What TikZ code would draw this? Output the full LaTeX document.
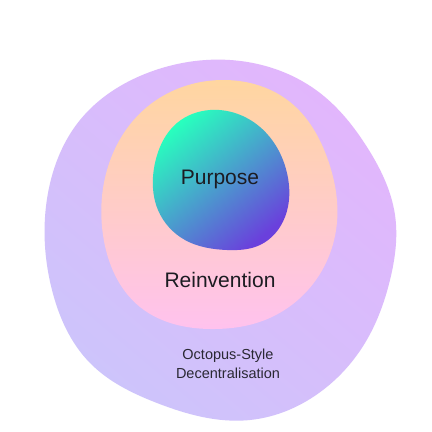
\documentclass[tikz,border=0pt]{standalone}
\usepackage{fontspec}
\setmainfont{Liberation Sans}
\usetikzlibrary{hobby}
\definecolor{outerA}{HTML}{E2B6FC}
\definecolor{outerB}{HTML}{CDC4FB}
\definecolor{midA}{HTML}{FFD6A0}
\definecolor{midB}{HTML}{FFC2EE}
\definecolor{inA}{HTML}{28FFBE}
\definecolor{inM}{HTML}{48B8C8}
\definecolor{inB}{HTML}{6A40DC}
\definecolor{txt}{HTML}{1C1C22}
\definecolor{txtb}{HTML}{2A2833}
\begin{document}
\begin{tikzpicture}[x=1pt,y=-1pt,
  lbl/.style={text=txt, inner sep=0pt, align=center}]
\useasboundingbox (0,0) rectangle (432,432);
\fill[white] (0,0) rectangle (432,432);
% outer blob
\shade[top color=outerA, bottom color=outerB, shading angle=-40]
  (230,60) to[closed, curve through={(320,93) (367,147) (395,215) (390,280)
  (365,343) (323,390) (250,420) (157,403) (90,363) (52,290) (48,193) (80,120) (150,72)}] (230,60);
% middle blob
\shade[top color=midA, bottom color=midB]
  (225,80) to[closed, curve through={(290,102) (328,160) (337,222) (318,277)
  (265,320) (215,329) (140,307) (103,235) (107,170) (147,107)}] (225,80);
% inner blob
\shade[top color=inA, middle color=inM, bottom color=inB, shading angle=40]
  (210,110) to[closed, curve through={(260,127) (287,173) (285,217) (260,245)
  (227,250) (185,240) (158,210) (155,163) (177,123)}] (210,110);
\node[lbl, font=\fontsize{21}{24}\selectfont] (purpose) at (220,179) {Purpose};
\node[lbl, font=\fontsize{21}{24}\selectfont] (reinv) at (220,280) {Reinvention};
\node[lbl, text=txtb, font=\fontsize{14.5}{19}\selectfont] (octo) at (228,364) {Octopus-Style\\Decentralisation};
\end{tikzpicture}
\end{document}
